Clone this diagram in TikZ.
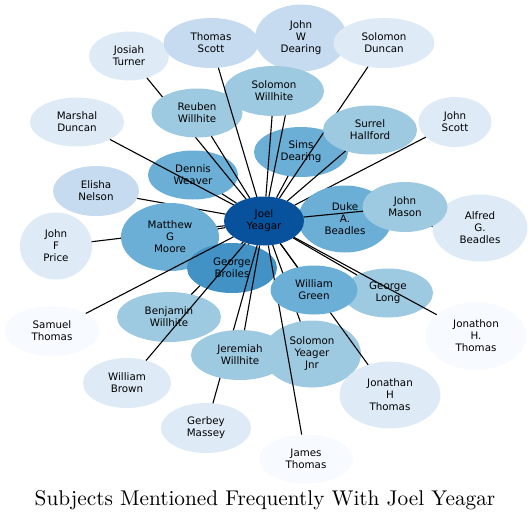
\documentclass[tikz,border=0pt]{standalone}
\usepackage{fontspec}
\usetikzlibrary{shapes.geometric}
\newfontfamily\nodefont{DejaVu Sans}
\newfontfamily\ttlfont{lmroman10-regular}[Extension=.otf]
\definecolor{cA}{HTML}{F7FBFF}
\definecolor{cB}{HTML}{DEEBF7}
\definecolor{cC}{HTML}{C6DBEF}
\definecolor{cD}{HTML}{9ECAE1}
\definecolor{cE}{HTML}{6BAED6}
\definecolor{cF}{HTML}{4292C6}
\definecolor{cH}{HTML}{08519C}
\tikzset{
  nd/.style={ellipse, inner sep=0pt, outer sep=0pt, draw=none, align=center,
    font=\nodefont\fontsize{10.3}{12}\selectfont, text=black},
  edge/.style={draw=black, line width=1.1pt},
  ttl/.style={anchor=base, font=\ttlfont\fontsize{21.3}{25}\selectfont}
}
\newcommand\Nd[7]{\node[nd, minimum width=#4pt, minimum height=#5pt, fill=#6] (#1) at (#2,#3) {#7};}
\newcommand\Ed[1]{\draw[edge] (joel) -- (#1);}
\begin{document}
\begin{tikzpicture}[x=1pt,y=-1pt]
\useasboundingbox (0,0) rectangle (532,520);
\path node[nd, minimum width=80pt, minimum height=49pt] (joel) at (264,221) {};
\Nd{dennis}{193}{175}{90}{49}{cE}{Dennis\\Weaver}\Ed{dennis}
\Nd{sims}{301}{152}{94}{50}{cE}{Sims\\Dearing}\Ed{sims}
\Nd{marshal}{77}{122}{94}{49}{cB}{Marshal\\Duncan}\Ed{marshal}
\Nd{josiah}{129}{56}{80}{49}{cB}{Josiah\\Turner}\Ed{josiah}
\Nd{reuben}{197}{113}{91}{49}{cD}{Reuben\\Willhite}\Ed{reuben}
\Nd{jwdearing}{301}{38}{92}{67}{cC}{John\\W\\Dearing}\Ed{jwdearing}
\Nd{solwillhite}{274}{91}{100}{50}{cD}{Solomon\\Willhite}\Ed{solwillhite}
\Nd{solduncan}{384}{43}{101}{50}{cB}{Solomon\\Duncan}\Ed{solduncan}
\Nd{surrel}{370}{130}{94}{49}{cD}{Surrel\\Hallford}\Ed{surrel}
\Nd{jscott}{455}{122}{73}{50}{cB}{John\\Scott}\Ed{jscott}
\Nd{tscott}{211}{43}{95}{50}{cC}{Thomas\\Scott}\Ed{tscott}
\Nd{elisha}{96}{191}{86}{50}{cC}{Elisha\\Nelson}\Ed{elisha}
\Nd{price}{56}{246}{72}{67}{cB}{John\\F\\Price}\Ed{price}
\Nd{matthew}{170}{237}{98}{68}{cE}{Matthew\\G\\Moore}\Ed{matthew}
\Nd{benjamin}{169}{317}{104}{50}{cD}{Benjamin\\Willhite}\Ed{benjamin}
\Nd{broiles}{232}{268}{90}{50}{cF}{George\\Broiles}\Ed{broiles}
\Nd{samuel}{52}{331}{95}{50}{cA}{Samuel\\Thomas}\Ed{samuel}
\Nd{wbrown}{127}{383}{88}{50}{cB}{William\\Brown}\Ed{wbrown}
\Nd{gerbey}{206}{428}{90}{50}{cB}{Gerbey\\Massey}\Ed{gerbey}
\Nd{jeremiah}{240}{355}{98}{50}{cD}{Jeremiah\\Willhite}\Ed{jeremiah}
\Nd{syeager}{312}{354}{98}{67}{cD}{Solomon\\Yeager\\Jnr}\Ed{syeager}
\Nd{james}{306}{459}{94}{49}{cA}{James\\Thomas}\Ed{james}
\Nd{jonathan}{390}{395}{101}{67}{cB}{Jonathan\\H\\Thomas}\Ed{jonathan}
\Nd{glong}{388}{293}{90}{49}{cD}{George\\Long}\Ed{glong}
\Nd{wgreen}{314}{290}{87}{49}{cE}{William\\Green}\Ed{wgreen}
\Nd{jonathon}{476}{336}{101}{68}{cA}{Jonathon\\H.\\Thomas}\Ed{jonathon}
\Nd{alfred}{480}{228}{95}{67}{cB}{Alfred\\G.\\Beadles}\Ed{alfred}
\Nd{duke}{345}{219}{94}{67}{cE}{Duke\\A.\\Beadles}\Ed{duke}
\Nd{mason}{405}{207}{85}{50}{cD}{John\\Mason}\Ed{mason}
\Nd{joel}{264}{221}{80}{49}{cH}{Joel\\Yeagar}
\node[ttl] (title) at (265,505) {Subjects Mentioned Frequently With Joel Yeagar};
\end{tikzpicture}
\end{document}
